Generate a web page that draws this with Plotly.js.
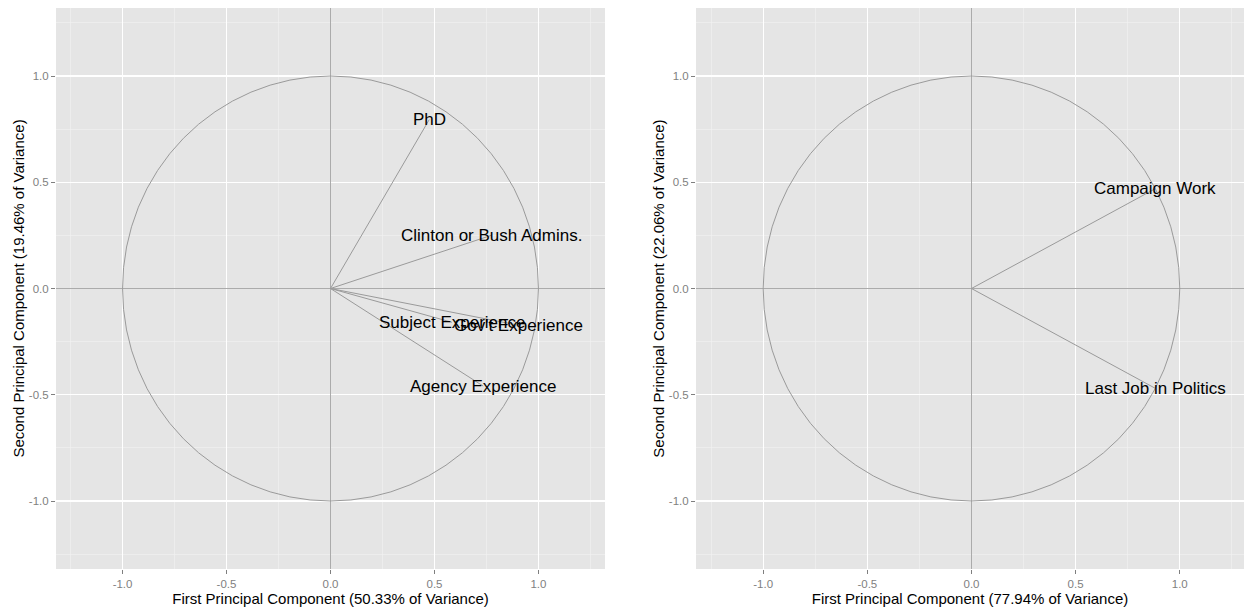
<!DOCTYPE html>
<html>
<head>
<meta charset="utf-8">
<script src="https://cdn.plot.ly/plotly-3.0.1.min.js"></script>
<style>
  html, body { margin: 0; padding: 0; background: #fff; }
  #chart { width: 1244px; height: 607px; }
</style>
</head>
<body>
<div id="chart"></div>
<script>
// Correlation circles: loadings of each variable on the first two principal components.
const leftVars = ["PhD", "Clinton or Bush Admins.", "Subject Experience", "Gov't Experience", "Agency Experience"];
const leftPC1 = [0.475, 0.773, 0.584, 0.904, 0.734];
const leftPC2 = [0.795, 0.250, -0.159, -0.173, -0.459];

const rightVars = ["Campaign Work", "Last Job in Politics"];
const rightPC1 = [0.883, 0.883];
const rightPC2 = [0.470, -0.470];

const leftXTitle = "First Principal Component (50.33% of Variance)";
const leftYTitle = "Second Principal Component (19.46% of Variance)";
const rightXTitle = "First Principal Component (77.94% of Variance)";
const rightYTitle = "Second Principal Component (22.06% of Variance)";

const tickVals = [-1, -0.5, 0, 0.5, 1];
const tickText = ["-1.0", "-0.5", "0.0", "0.5", "1.0"];
const circleRadius = 1;

const FONT = "Liberation Sans, Arial, Helvetica, sans-serif";
const SEG_COLOR = "#9a9a9a";

// One line trace per panel: origin -> loading, separated by gaps.
function segments(xs, ys, xa, ya) {
  const x = [], y = [];
  xs.forEach((v, i) => { x.push(0, v, null); y.push(0, ys[i], null); });
  return {
    type: "scatter", mode: "lines", x: x, y: y, xaxis: xa, yaxis: ya,
    line: { color: SEG_COLOR, width: 1 }, hoverinfo: "skip", showlegend: false
  };
}

function labels(names, xs, ys, xref, yref) {
  return names.map((t, i) => ({
    text: t, x: xs[i], y: ys[i], xref: xref, yref: yref,
    showarrow: false, xanchor: "center", yanchor: "middle",
    font: { family: FONT, size: 17, color: "#000" }
  }));
}

function axisStyle(domain, range, title) {
  return {
    domain: domain, range: range, fixedrange: true,
    tickmode: "array", tickvals: tickVals, ticktext: tickText,
    ticks: "outside", ticklen: 4, tickwidth: 1, tickcolor: "#7f7f7f",
    tickfont: { family: FONT, size: 11.5, color: "#7f7f7f" },
    showgrid: true, gridcolor: "#ffffff", gridwidth: 1.1,
    minor: { dtick: 0.25, tick0: 0, showgrid: true, gridcolor: "#f2f2f2", gridwidth: 0.6, ticks: "" },
    zeroline: true, zerolinecolor: "#ababab", zerolinewidth: 1.2,
    showline: false, automargin: false,
    title: { text: title, font: { family: FONT, size: 15, color: "#000" } }
  };
}

const W = 1244, H = 607;
const yDomain = [(H - 569) / H, (H - 8) / H];

const data = [
  segments(leftPC1, leftPC2, "x", "y"),
  segments(rightPC1, rightPC2, "x2", "y2")
];

// The right panel runs off the right edge of the figure, so its range is cut short there.
const xa1 = axisStyle([56 / W, 605 / W], [-1.32, 1.32], leftXTitle);
const ya1 = axisStyle(yDomain, [-1.32, 1.32], leftYTitle);
const xa2 = axisStyle([696 / W, 1], [-1.3226, 1.3084], rightXTitle);
const ya2 = axisStyle(yDomain, [-1.32, 1.32], rightYTitle);
xa1.anchor = "y"; ya1.anchor = "x";
xa2.anchor = "y2"; ya2.anchor = "x2";
xa1.title.standoff = 0; xa2.title.standoff = 0;
ya1.title.standoff = 0; ya2.title.standoff = 0;

const layout = {
  width: W, height: H,
  margin: { l: 0, r: 0, t: 0, b: 0 },
  paper_bgcolor: "#ffffff", plot_bgcolor: "#e5e5e5",
  font: { family: FONT },
  showlegend: false, hovermode: false,
  xaxis: xa1, yaxis: ya1, xaxis2: xa2, yaxis2: ya2,
  shapes: [
    { type: "circle", xref: "x", yref: "y", x0: -circleRadius, x1: circleRadius, y0: -circleRadius, y1: circleRadius,
      line: { color: SEG_COLOR, width: 1 }, layer: "above" },
    { type: "circle", xref: "x2", yref: "y2", x0: -circleRadius, x1: circleRadius, y0: -circleRadius, y1: circleRadius,
      line: { color: SEG_COLOR, width: 1 }, layer: "above" }
  ],
  annotations: labels(leftVars, leftPC1, leftPC2, "x", "y")
    .concat(labels(rightVars, rightPC1, rightPC2, "x2", "y2"))
};

Plotly.newPlot("chart", data, layout, { displayModeBar: false, staticPlot: true });
</script>
</body>
</html>
